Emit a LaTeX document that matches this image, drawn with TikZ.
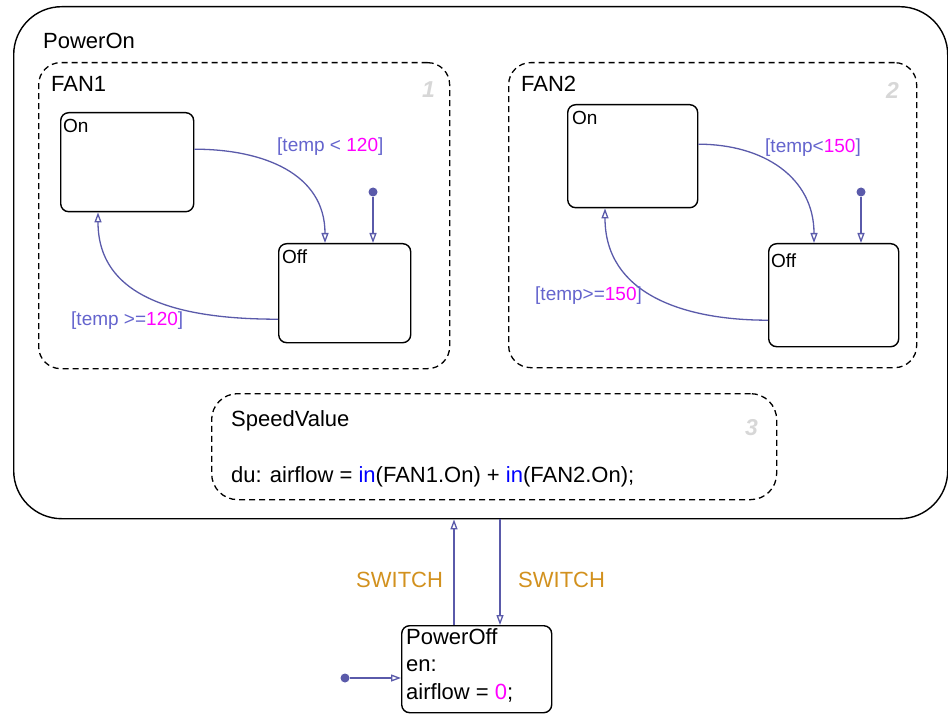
\documentclass[tikz,border=0pt]{standalone}
\usepackage{fontspec}
\setmainfont{Liberation Sans}
\usetikzlibrary{arrows.meta}

\definecolor{trcol}{RGB}{90,90,170}
\definecolor{guardcol}{RGB}{100,100,205}
\definecolor{numcol}{RGB}{255,0,255}
\definecolor{kwcol}{RGB}{0,0,255}
\definecolor{evcol}{RGB}{210,145,30}
\definecolor{ordcol}{RGB}{215,215,215}

\tikzset{
  state/.style={draw, line width=1.4pt, rounded corners=8pt, anchor=north west, inner sep=0pt},
  parbox/.style={draw, line width=1.3pt, dash pattern=on 6pt off 4pt, rounded corners=22pt, anchor=north west, inner sep=0pt},
  title/.style={anchor=base west, inner sep=0pt, font=\fontsize{22}{26}\selectfont},
  sname/.style={anchor=base west, inner sep=0pt, font=\fontsize{19}{23}\selectfont},
  guard/.style={anchor=base west, inner sep=0pt, text=guardcol, font=\fontsize{19}{23}\selectfont},
  event/.style={anchor=base west, inner sep=0pt, text=evcol, font=\fontsize{22}{26}\selectfont},
  order/.style={anchor=base west, inner sep=0pt, text=ordcol, font=\fontsize{23}{26}\selectfont\bfseries\itshape},
  trans/.style={draw=trcol, line width=1.3pt, -{Triangle[open, length=10pt, width=7pt]}},
  defdot/.style={circle, fill=trcol, inner sep=0pt, minimum size=9pt}
}

\begin{document}
\begin{tikzpicture}[x=1pt, y=-1pt]
\useasboundingbox (0,0) rectangle (948,714);

% superstate
\node[state, rounded corners=48pt, minimum width=934pt, minimum height=512pt] (poweron) at (13,6) {};
\node[title] (powerontxt) at (43,49) {PowerOn};

% FAN1
\node[parbox, minimum width=411pt, minimum height=306pt] (fan1) at (38,62) {};
\node[title] (fan1txt) at (51,92) {FAN1};
\node[order] (ord1) at (422,98) {1};
\node[state, minimum width=133pt, minimum height=99pt] (on1) at (60,112) {};
\node[sname] (on1txt) at (63,133) {On};
\node[state, minimum width=132pt, minimum height=99pt] (off1) at (278,243) {};
\node[sname] (off1txt) at (282,264) {Off};
\node[defdot] (dot1) at (373,192) {};
\draw[trans] ([yshift=13pt]on1.east) to[out=0, in=90, looseness=1.1] ([xshift=47pt]off1.north west);
\draw[trans] ([yshift=-26pt]off1.west) to[out=180, in=-90, looseness=1.1] ([xshift=38pt]on1.south west);
\draw[trans] (dot1) -- (dot1 |- off1.north);
\node[guard] (g1a) at (277,152) {[temp < \textcolor{numcol}{120}]};
\node[guard] (g1b) at (71,325) {[temp >=\textcolor{numcol}{120}]};

% FAN2
\node[parbox, minimum width=408pt, minimum height=305pt] (fan2) at (508,62) {};
\node[title] (fan2txt) at (521,92) {FAN2};
\node[order] (ord2) at (886,99) {2};
\node[state, minimum width=130pt, minimum height=103pt] (on2) at (567,104) {};
\node[sname] (on2txt) at (572,125) {On};
\node[state, minimum width=130pt, minimum height=103pt] (off2) at (768,243) {};
\node[sname] (off2txt) at (771,267) {Off};
\node[defdot] (dot2) at (861,192) {};
\draw[trans] ([yshift=12pt]on2.east) to[out=0, in=90, looseness=1.1] ([xshift=46pt]off2.north west);
\draw[trans] ([yshift=-25pt]off2.west) to[out=180, in=-90, looseness=1.1] ([xshift=38pt]on2.south west);
\draw[trans] (dot2) -- (dot2 |- off2.north);
\node[guard] (g2a) at (765,153) {[temp<\textcolor{numcol}{150}]};
\node[guard] (g2b) at (535,300) {[temp>=\textcolor{numcol}{150}]};

% SpeedValue
\node[parbox, rounded corners=26pt, minimum width=565pt, minimum height=106pt] (speed) at (211,393) {};
\node[title] (speedtxt) at (231,426) {SpeedValue};
\node[title] (speedact) at (231,482) {du: airflow = \textcolor{kwcol}{in}(FAN1.On) + \textcolor{kwcol}{in}(FAN2.On);};
\node[order] (ord3) at (745,435) {3};

% PowerOff
\node[state, minimum width=150pt, minimum height=87pt] (poweroff) at (401,625) {};
\node[title, anchor=north west, align=left, font=\fontsize{22}{27.5}\selectfont] (powerofftxt) at (406,628)
  {PowerOff\\en:\\airflow = \textcolor{numcol}{0};};
\node[defdot] (dot3) at (345,678) {};
\draw[trans] (dot3) -- (dot3 -| poweroff.west);

% SWITCH transitions
\draw[trans] ([xshift=53pt]poweroff.north west) -- ([xshift=53pt]poweroff.north west |- poweron.south);
\draw[trans] ([xshift=99pt]poweroff.north west |- poweron.south) -- ([xshift=99pt]poweroff.north west);
\node[event] (sw1) at (356,587) {SWITCH};
\node[event] (sw2) at (518,587) {SWITCH};
\end{tikzpicture}
\end{document}
